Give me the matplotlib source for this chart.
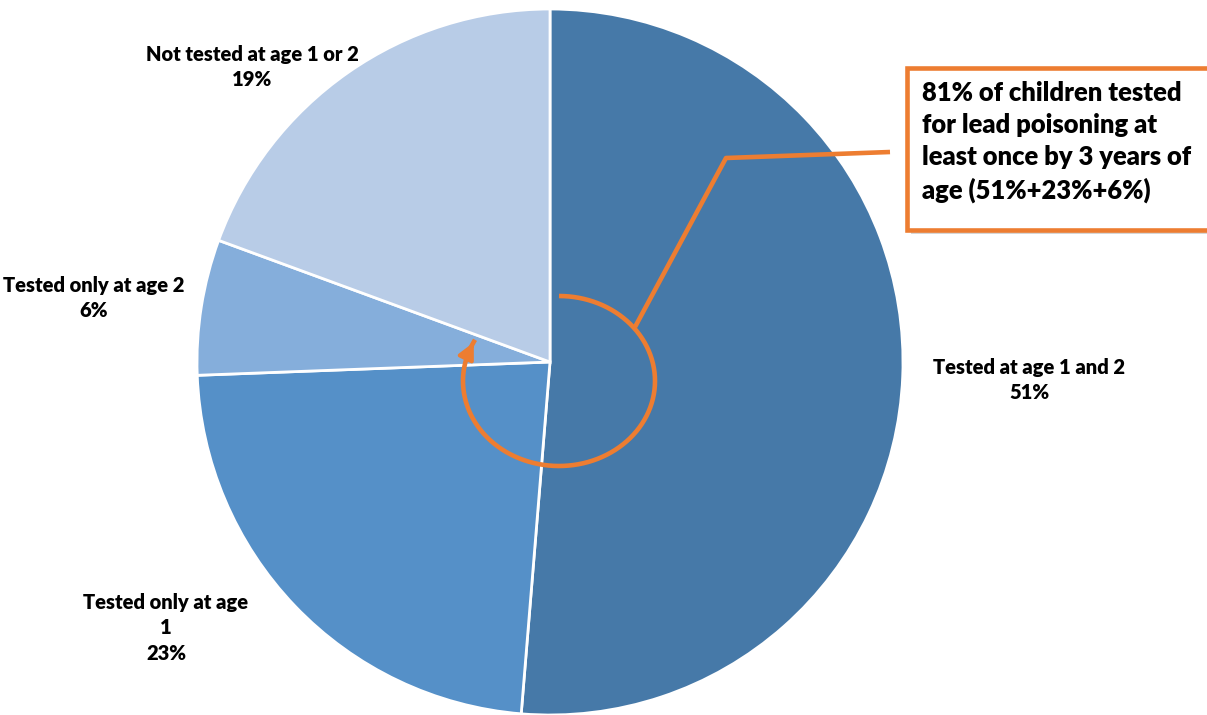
import matplotlib.pyplot as plt
import numpy as np
from matplotlib.patches import Rectangle

# share of children by lead testing status (clockwise from top)
labels = ['Tested at age 1 and 2', 'Tested only at age\n1', 'Tested only at age 2', 'Not tested at age 1 or 2']
shares = [51.3, 23.1, 6.2, 19.4]
shown = ['51%', '23%', '6%', '19%']
colors = ['#4679A8', '#5590C8', '#85AEDB', '#B8CCE7']

H = 715


def Y(py):
    # pixel row -> data y
    return H - py


fig = plt.figure(figsize=(12.07, 7.15), dpi=100)
ax = fig.add_axes([0, 0, 1, 1])
ax.pie(shares, colors=colors, startangle=90, counterclock=False,
       center=(550, Y(362)), radius=353,
       wedgeprops=dict(edgecolor='white', linewidth=2))
ax.set_xlim(0, 1207)
ax.set_ylim(0, H)
ax.set_aspect('equal')
ax.axis('off')

font = dict(family=['Lato', 'DejaVu Sans'], fontweight='heavy', fontsize=14.5, color='black')
label_pos = [(1029, 380), (166, 628), (94, 298), (252, 67)]
for lab, pct, (px, py) in zip(labels, shown, label_pos):
    ax.text(px, Y(py), lab + '\n' + pct, ha='center', va='center',
            multialignment='center', linespacing=1.4, **font)

orange = '#ED7D31'

# circular arrow around the centre
t = np.radians(np.linspace(90, -209, 200))
cx, cy, rx, ry = 559, 381, 96, 85
ax.plot(cx + rx * np.cos(t), Y(cy - ry * np.sin(t)), color=orange, lw=3.3, solid_capstyle='butt')
ax.annotate('', xy=(cx + rx * np.cos(t[-1]), Y(cy - ry * np.sin(t[-1]))),
            xytext=(cx + rx * np.cos(t[-8]), Y(cy - ry * np.sin(t[-8]))),
            arrowprops=dict(arrowstyle='-|>', color=orange, lw=3, mutation_scale=24))

# callout line
ax.plot([635, 726, 890], [Y(327), Y(158), Y(152)], color=orange, lw=3.3, solid_capstyle='butt')

# callout box with shadow
ax.add_patch(Rectangle((911, Y(234)), 320, 162, facecolor='#bbbbbb', edgecolor='none',
                       alpha=0.6, clip_on=True))
ax.add_patch(Rectangle((907, Y(230)), 320, 162, facecolor='white', edgecolor=orange,
                       lw=3.3, clip_on=True))
ax.text(922, Y(81), '81% of children tested\nfor lead poisoning at\nleast once by 3 years of\nage (51%+23%+6%)',
        ha='left', va='top', linespacing=1.4,
        family=['Lato', 'DejaVu Sans'], fontweight='heavy', fontsize=18.4, color='black')

fig.savefig('out.png', dpi=100)
